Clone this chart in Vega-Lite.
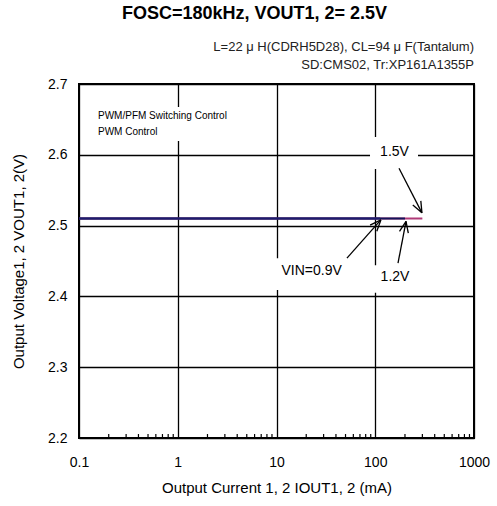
{
  "$schema": "https://vega.github.io/schema/vega-lite/v6.json",
  "width": 395,
  "height": 354,
  "autosize": {"type": "none"},
  "padding": {"left": 79, "top": 84, "right": 23, "bottom": 68},
  "background": "white",
  "config": {
    "font": "Liberation Sans",
    "view": {"stroke": "black", "strokeWidth": 2},
    "title": {"font": "Liberation Sans"}
  },
  "title": {
    "text": "FOSC=180kHz, VOUT1, 2= 2.5V",
    "fontSize": 18,
    "fontWeight": "bold",
    "color": "black",
    "anchor": "middle",
    "frame": "group",
    "dx": -22,
    "offset": 18
  },
  "datasets": {
    "boxes": [
      {"I": 0.115, "I2": 7.13, "V": 2.6195, "V2": 2.6675},
      {"I": 88.5, "I2": 271, "V": 2.58, "V2": 2.625},
      {"I": 9.0, "I2": 55.5, "V": 2.409, "V2": 2.454},
      {"I": 92.7, "I2": 271, "V": 2.405, "V2": 2.444}
    ],
    "minor": [
      {"I": 0.2, "V": 2.2, "V2": 2.2056}, {"I": 0.3, "V": 2.2, "V2": 2.2056}, {"I": 0.4, "V": 2.2, "V2": 2.2056}, {"I": 0.5, "V": 2.2, "V2": 2.2056}, {"I": 0.6, "V": 2.2, "V2": 2.2056}, {"I": 0.7, "V": 2.2, "V2": 2.2056}, {"I": 0.8, "V": 2.2, "V2": 2.2056}, {"I": 0.9, "V": 2.2, "V2": 2.2056},
      {"I": 2, "V": 2.2, "V2": 2.2056}, {"I": 3, "V": 2.2, "V2": 2.2056}, {"I": 4, "V": 2.2, "V2": 2.2056}, {"I": 5, "V": 2.2, "V2": 2.2056}, {"I": 6, "V": 2.2, "V2": 2.2056}, {"I": 7, "V": 2.2, "V2": 2.2056}, {"I": 8, "V": 2.2, "V2": 2.2056}, {"I": 9, "V": 2.2, "V2": 2.2056},
      {"I": 20, "V": 2.2, "V2": 2.2056}, {"I": 30, "V": 2.2, "V2": 2.2056}, {"I": 40, "V": 2.2, "V2": 2.2056}, {"I": 50, "V": 2.2, "V2": 2.2056}, {"I": 60, "V": 2.2, "V2": 2.2056}, {"I": 70, "V": 2.2, "V2": 2.2056}, {"I": 80, "V": 2.2, "V2": 2.2056}, {"I": 90, "V": 2.2, "V2": 2.2056},
      {"I": 200, "V": 2.2, "V2": 2.2056}, {"I": 300, "V": 2.2, "V2": 2.2056}, {"I": 400, "V": 2.2, "V2": 2.2056}, {"I": 500, "V": 2.2, "V2": 2.2056}, {"I": 600, "V": 2.2, "V2": 2.2056}, {"I": 700, "V": 2.2, "V2": 2.2056}, {"I": 800, "V": 2.2, "V2": 2.2056}, {"I": 900, "V": 2.2, "V2": 2.2056}
    ],
    "v15": [
      {"I": 0.1, "V": 2.51}, {"I": 1, "V": 2.51}, {"I": 10, "V": 2.51}, {"I": 100, "V": 2.51}, {"I": 300, "V": 2.51}
    ],
    "v12": [
      {"I": 0.1, "V": 2.51}, {"I": 1, "V": 2.51}, {"I": 10, "V": 2.51}, {"I": 100, "V": 2.51}, {"I": 200, "V": 2.51}
    ],
    "v09": [
      {"I": 0.1, "V": 2.51}, {"I": 1, "V": 2.51}, {"I": 10, "V": 2.51}, {"I": 100, "V": 2.51}, {"I": 112, "V": 2.51}
    ],
    "arrows": [
      {"I": 174, "V": 2.581, "I2": 297, "V2": 2.518},
      {"I": 240.1, "V": 2.5291, "I2": 297, "V2": 2.518},
      {"I": 289.3, "V": 2.5349, "I2": 297, "V2": 2.518},
      {"I": 51.7, "V": 2.454, "I2": 114, "V2": 2.508},
      {"I": 103.7, "V": 2.4921, "I2": 114, "V2": 2.508},
      {"I": 88.7, "V": 2.5006, "I2": 114, "V2": 2.508},
      {"I": 170, "V": 2.447, "I2": 205, "V2": 2.506},
      {"I": 216.1, "V": 2.4893, "I2": 205, "V2": 2.506},
      {"I": 176.0, "V": 2.4917, "I2": 205, "V2": 2.506}
    ],
    "labels": [
      {"I": 22.7, "V": 2.436, "txt": "VIN=0.9V"},
      {"I": 158.5, "V": 2.427, "txt": "1.2V"},
      {"I": 156.7, "V": 2.604, "txt": "1.5V"}
    ],
    "pwm": [
      {"I": 0.1557, "V": 2.6548, "txt": "PWM/PFM Switching Control"},
      {"I": 0.1557, "V": 2.6322, "txt": "PWM  Control"}
    ]
  },
  "layer": [
    {
      "data": {"name": "boxes"},
      "mark": {"type": "rect", "fill": "white", "stroke": null},
      "encoding": {
        "x": {
          "field": "I", "type": "quantitative",
          "scale": {"type": "log", "domain": [0.1, 1000], "nice": false},
          "axis": {
            "title": "Output Current 1, 2 IOUT1, 2 (mA)",
            "values": [0.1, 1, 10, 100, 1000],
            "labelExpr": "datum.value + ''",
            "grid": true,
            "gridColor": "black",
            "gridWidth": 1.3,
            "ticks": false,
            "domain": false,
            "labelFontSize": 14,
            "labelColor": "black",
            "labelPadding": 17,
            "labelFlush": false,
            "labelOverlap": false,
            "titleFontSize": 15,
            "titleFontWeight": "normal",
            "titleColor": "black",
            "titlePadding": 11
          }
        },
        "x2": {"field": "I2"},
        "y": {
          "field": "V", "type": "quantitative",
          "scale": {"domain": [2.2, 2.7], "nice": false, "zero": false},
          "axis": {
            "title": "Output Voltage1, 2  VOUT1, 2(V)",
            "values": [2.2, 2.3, 2.4, 2.5, 2.6, 2.7],
            "format": ".1f",
            "grid": true,
            "gridColor": "black",
            "gridWidth": 1.3,
            "ticks": false,
            "domain": false,
            "labelFontSize": 14,
            "labelColor": "black",
            "labelPadding": 12,
            "titleFontSize": 15,
            "titleFontWeight": "normal",
            "titleColor": "black",
            "titlePadding": 21
          }
        },
        "y2": {"field": "V2"}
      }
    },
    {
      "data": {"name": "minor"},
      "mark": {"type": "rule", "color": "black", "strokeWidth": 1.2},
      "encoding": {
        "x": {"field": "I", "type": "quantitative"},
        "y": {"field": "V", "type": "quantitative"},
        "y2": {"field": "V2"}
      }
    },
    {
      "data": {"name": "v15"},
      "mark": {"type": "line", "color": "#b03a78", "strokeWidth": 2},
      "encoding": {
        "x": {"field": "I", "type": "quantitative"},
        "y": {"field": "V", "type": "quantitative"}
      }
    },
    {
      "data": {"name": "v12"},
      "mark": {"type": "line", "color": "#14145a", "strokeWidth": 2},
      "encoding": {
        "x": {"field": "I", "type": "quantitative"},
        "y": {"field": "V", "type": "quantitative"}
      }
    },
    {
      "data": {"name": "v09"},
      "mark": {"type": "line", "color": "#1c1c6e", "strokeWidth": 2},
      "encoding": {
        "x": {"field": "I", "type": "quantitative"},
        "y": {"field": "V", "type": "quantitative"}
      }
    },
    {
      "data": {"name": "arrows"},
      "mark": {"type": "rule", "color": "black", "strokeWidth": 1.3},
      "encoding": {
        "x": {"field": "I", "type": "quantitative"},
        "y": {"field": "V", "type": "quantitative"},
        "x2": {"field": "I2"},
        "y2": {"field": "V2"}
      }
    },
    {
      "data": {"name": "labels"},
      "mark": {"type": "text", "fontSize": 14, "color": "black", "align": "center", "baseline": "middle"},
      "encoding": {
        "x": {"field": "I", "type": "quantitative"},
        "y": {"field": "V", "type": "quantitative"},
        "text": {"field": "txt"}
      }
    },
    {
      "data": {"name": "pwm"},
      "mark": {"type": "text", "fontSize": 10, "color": "black", "align": "left", "baseline": "middle"},
      "encoding": {
        "x": {"field": "I", "type": "quantitative"},
        "y": {"field": "V", "type": "quantitative"},
        "text": {"field": "txt"}
      }
    },
    {
      "data": {"values": [{"I": 1000, "V": 2.7, "txt": "L=22 μ H(CDRH5D28), CL=94 μ F(Tantalum)"}]},
      "mark": {"type": "text", "fontSize": 13, "color": "#222222", "align": "right", "baseline": "middle", "dx": 0, "dy": -37, "clip": false},
      "encoding": {
        "x": {"field": "I", "type": "quantitative"},
        "y": {"field": "V", "type": "quantitative"},
        "text": {"field": "txt"}
      }
    },
    {
      "data": {"values": [{"I": 1000, "V": 2.7, "txt": "SD:CMS02, Tr:XP161A1355P"}]},
      "mark": {"type": "text", "fontSize": 13, "color": "#222222", "align": "right", "baseline": "middle", "dx": 0, "dy": -19, "clip": false},
      "encoding": {
        "x": {"field": "I", "type": "quantitative"},
        "y": {"field": "V", "type": "quantitative"},
        "text": {"field": "txt"}
      }
    }
  ]
}
